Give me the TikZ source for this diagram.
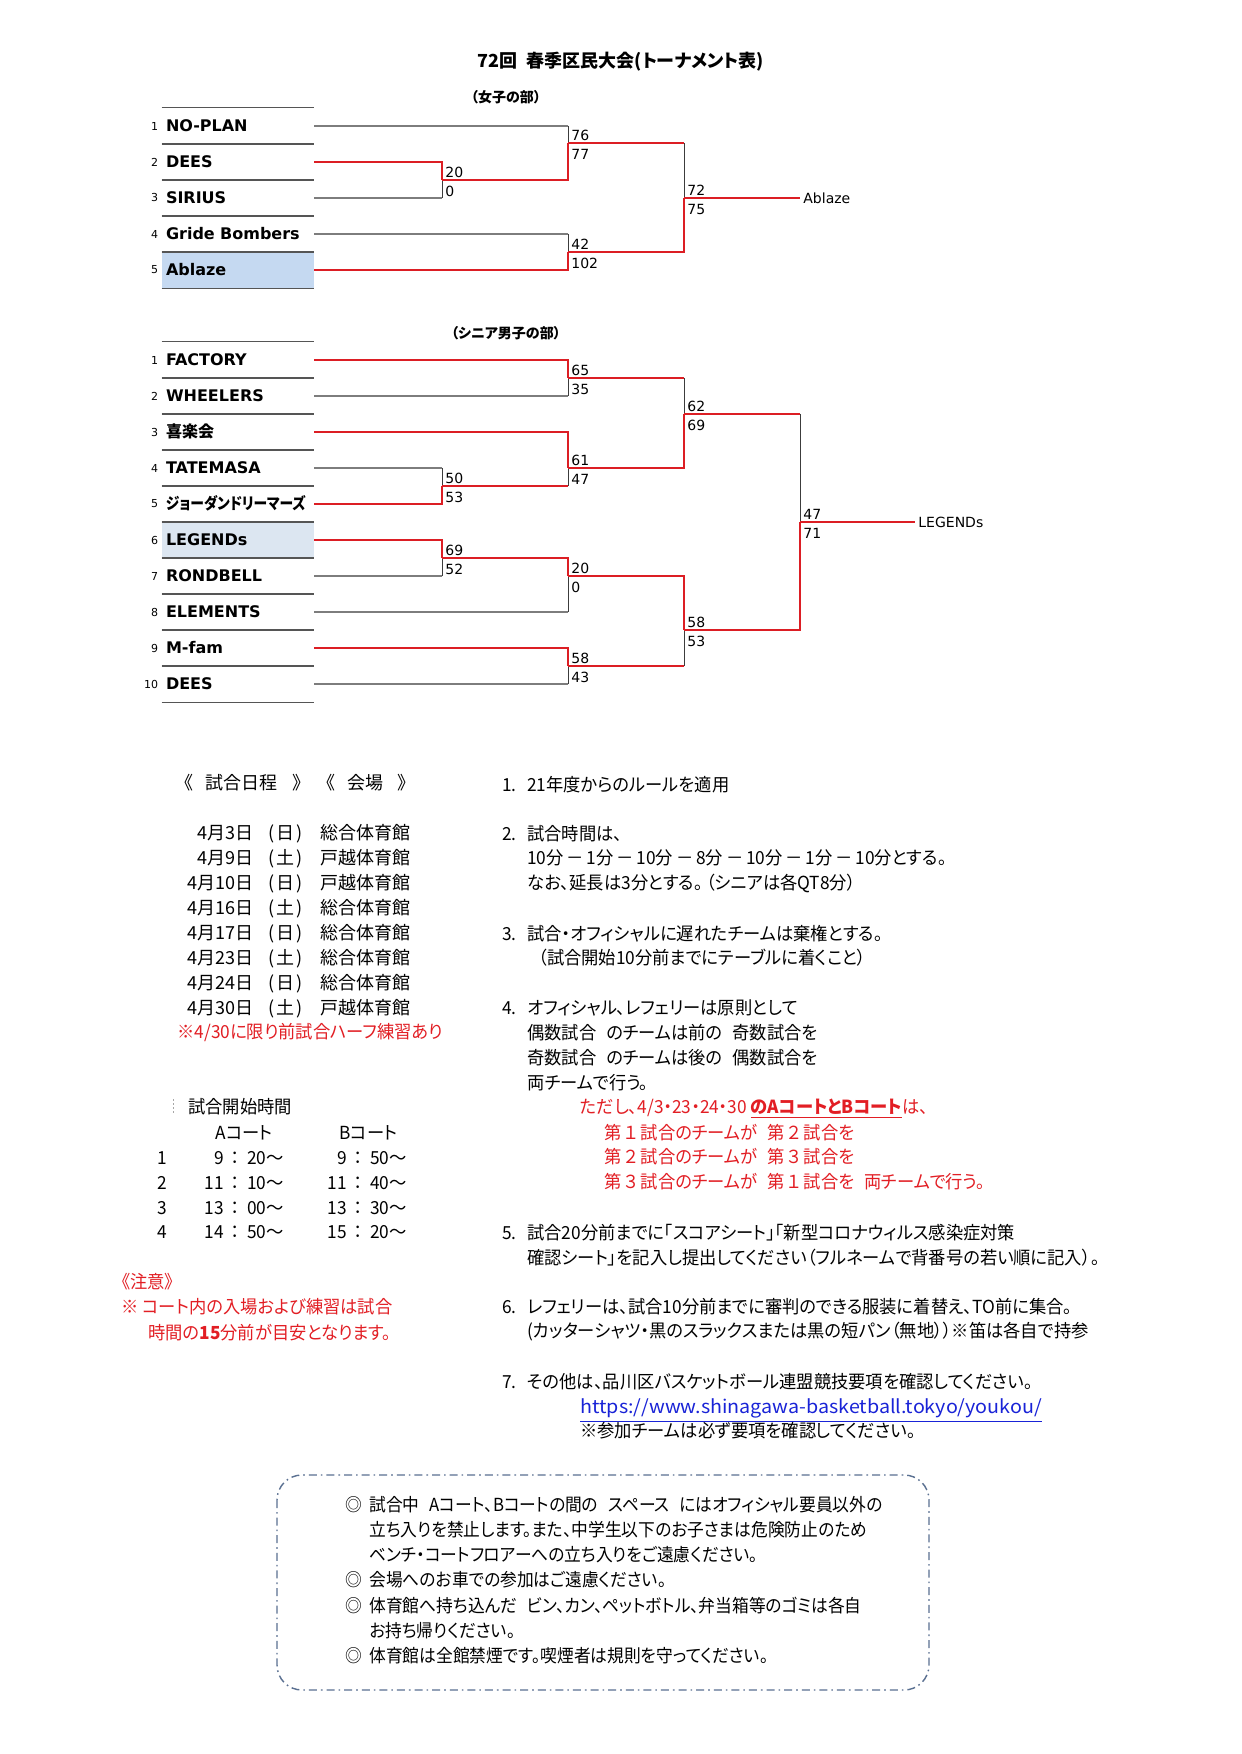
\documentclass[tikz,border=0pt]{standalone}
\usepackage{fontspec}
\setmainfont{DejaVu Sans}
\newfontfamily\lat{DejaVu Sans}
\newfontfamily\jpt[RawFeature=+palt]{Noto Sans CJK JP}
\newfontfamily\jp[RawFeature=+palt,FakeStretch=0.96]{Noto Sans CJK JP}
\newfontfamily\jpx[RawFeature=+palt,FakeStretch=0.93]{Noto Sans CJK JP}
\newfontfamily\jpw[FakeStretch=1.06]{Noto Sans CJK JP}
\newfontfamily\jpc[RawFeature=+palt,FakeStretch=0.86]{Noto Sans CJK JP}
\definecolor{wred}{RGB}{220,30,36}
\definecolor{hgray}{RGB}{125,125,125}
\definecolor{vgray}{RGB}{60,60,60}
\definecolor{sepc}{RGB}{85,85,85}
\definecolor{cellA}{RGB}{197,217,241}
\definecolor{cellB}{RGB}{220,230,241}
\definecolor{txtred}{RGB}{226,30,36}
\definecolor{urlblue}{RGB}{25,35,215}
\definecolor{boxc}{RGB}{90,112,145}
\tikzset{
  win/.style={draw=wred,line width=1.2pt},
  loseh/.style={draw=hgray,line width=0.65pt},
  losev/.style={draw=vgray,line width=0.5pt},
  sepline/.style={draw=sepc,line width=0.8pt},
  teamcell/.style={inner xsep=2pt,inner ysep=0pt,text width=72pt,minimum height=18pt,align=left,
    font=\lat\bfseries\fontsize{8}{9.6}\selectfont,text height=5.9pt,text depth=0pt},
  rownum/.style={anchor=east,inner xsep=1.5pt,inner ysep=0pt,font=\lat\fontsize{5.5}{6.6}\selectfont},
  score/.style={anchor=base west,inner sep=0pt,font=\lat\fontsize{7}{8.4}\selectfont},
  champ/.style={anchor=west,inner xsep=1.5pt,inner ysep=0pt,font=\lat\fontsize{7}{8.4}\selectfont},
  jtitle/.style={inner sep=0pt,font=\jpt\bfseries\fontsize{9}{10.8}\selectfont},
  jhead/.style={inner sep=0pt,font=\jpt\bfseries\fontsize{7}{8.4}\selectfont},
  jt/.style={anchor=west,inner sep=0pt,font=\jp\fontsize{9}{10.8}\selectfont,text height=7.9pt,text depth=1.1pt},
  jte/.style={jt,anchor=east},
  jtc/.style={jt,anchor=center},
  jred/.style={jt,text=txtred},
  jdate/.style={jt,font=\jpt\fontsize{9}{10.8}\selectfont},
  jbox/.style={jt,font=\jpx\fontsize{9}{10.8}\selectfont},
  boxline/.style={draw=boxc,line width=0.7pt,dash pattern=on 4pt off 2pt on 0.8pt off 2pt,rounded corners=12.5pt}
}
\newcommand\ew[2]{\draw[win] (#1) -| (#2);}
\newcommand\el[2]{\draw[loseh] (#1) -- (#1 -| #2); \draw[losev] (#1 -| #2) -- (#2);}
\newcommand\eo[2]{\draw[losev] (#1 -| #2) -- (#2); \draw[win] (#1) -- (#1 -| #2);}
\newcommand\scores[3]{\node[score] (#1u) at ([shift={(3,-2.5)}]#1) {#2};
  \node[score] (#1l) at ([shift={(3,16.5)}]#1) {#3};}
\newcommand\cellsep[1]{\draw[sepline] (#1.north west) -- (#1.north east); \draw[sepline] (#1.south west) -- (#1.south east);}
\newcommand\dsh{\hspace{0.16em}－\hspace{0.16em}}
\newcommand\hsp{\hspace{0.55em}}
\newcommand\clt{\hspace{0.4em}：\hspace{0.4em}}
\begin{document}
\begin{tikzpicture}[x=0.5pt,y=-0.5pt]
\useasboundingbox (0,0) rectangle (1241,1754);
\fill[white] (0,0) rectangle (1241,1754);

% ---------- titles
\node[jtitle] (title) at (621,62) {72回\hspace{0.5em}春季区民大会(トーナメント表)};
\node[jhead] (hw) at (506,97) {（女子の部）};
\node[jhead] (hm) at (506,333) {（シニア男子の部）};

% ---------- women cells
\node[teamcell] (w1) at (238,126) {NO-PLAN};
\node[teamcell] (w2) at (238,162) {DEES};
\node[teamcell] (w3) at (238,198) {SIRIUS};
\node[teamcell] (w4) at (238,234) {Gride Bombers};
\node[teamcell,fill=cellA] (w5) at (238,270) {Ablaze};
\foreach \i in {1,...,5} {\cellsep{w\i} \node[rownum] (wn\i) at (w\i.west) {\i};}

% ---------- men cells
\node[teamcell] (s1) at (238,360) {FACTORY};
\node[teamcell] (s2) at (238,396) {WHEELERS};
\node[teamcell] (s3) at (238,432) {{\jpt 喜楽会}};
\node[teamcell] (s4) at (238,468) {TATEMASA};
\node[teamcell] (s5) at (238,504) {{\jpc ジョーダンドリーマーズ}};
\node[teamcell,fill=cellB] (s6) at (238,540) {LEGENDs};
\node[teamcell] (s7) at (238,576) {RONDBELL};
\node[teamcell] (s8) at (238,612) {ELEMENTS};
\node[teamcell] (s9) at (238,648) {M-fam};
\node[teamcell] (s10) at (238,684) {DEES};
\foreach \i in {1,...,10} {\cellsep{s\i} \node[rownum] (sn\i) at (s\i.west) {\i};}

% ---------- junctions
\coordinate (mA) at (442,180);
\coordinate (mB) at (568,143);
\coordinate (mC) at (568,252);
\coordinate (mD) at (684,198);
\coordinate (m1) at (568,378);
\coordinate (m2) at (442,486);
\coordinate (m3) at (568,468);
\coordinate (m4) at (684,414);
\coordinate (m5) at (442,558);
\coordinate (m6) at (568,576);
\coordinate (m7) at (568,666);
\coordinate (m8) at (684,630);
\coordinate (m9) at (800,522);

% women bracket
\el{w1.east}{mB}
\el{w3.east}{mA}
\el{w4.east}{mC}
\eo{mB}{mD}
\ew{w2.east}{mA}
\ew{w5.east}{mC}
\ew{mA}{mB}
\ew{mC}{mD}
\node[champ] (cw) at (800,198) {Ablaze};
\draw[win] (mD) -- (cw.west);
\scores{mA}{20}{0}
\scores{mB}{76}{77}
\scores{mC}{42}{102}
\scores{mD}{72}{75}

% men bracket
\el{s2.east}{m1}
\el{s4.east}{m2}
\el{s7.east}{m5}
\el{s8.east}{m6}
\el{s10.east}{m7}
\eo{m2}{m3}
\eo{m1}{m4}
\eo{m7}{m8}
\eo{m4}{m9}
\ew{s1.east}{m1}
\ew{s3.east}{m3}
\ew{s5.east}{m2}
\ew{s6.east}{m5}
\ew{s9.east}{m7}
\ew{m3}{m4}
\ew{m5}{m6}
\ew{m6}{m8}
\ew{m8}{m9}
\node[champ] (cm) at (915,522) {LEGENDs};
\draw[win] (m9) -- (cm.west);
\scores{m1}{65}{35}
\scores{m2}{50}{53}
\scores{m3}{61}{47}
\scores{m4}{62}{69}
\scores{m5}{69}{52}
\scores{m6}{20}{0}
\scores{m7}{58}{43}
\scores{m8}{58}{53}
\scores{m9}{47}{71}

% ---------- schedule
\node[jdate] (hA1) at (184,783) {《};
\node[jdate] (hA2) at (205,783) {試合日程};
\node[jdate] (hA3) at (292,783) {》};
\node[jdate] (hB1) at (326,783) {《};
\node[jdate] (hB2) at (347,783) {会場};
\node[jdate] (hB3) at (397,783) {》};
\foreach \d/\w/\v [count=\k] in {4月3日/日/総合,4月9日/土/戸越,4月10日/日/戸越,4月16日/土/総合,4月17日/日/総合,4月23日/土/総合,4月24日/日/総合,4月30日/土/戸越} {
  \pgfmathsetmacro\yy{833+(\k-1)*24.9}
  \node[jdate,anchor=east] (dd\k) at (254,\yy) {\d};
  \node[jdate] (dw\k) at (268,\yy) {(\hspace{0.1em}\w\hspace{0.1em})};
  \node[jdate] (dv\k) at (320,\yy) {\v 体育館};
}
\node[jred] (dnote) at (177,1032) {※4/30に限り前試合ハーフ練習あり};

% ---------- start times
\draw[gray!70,line width=0.4pt,dash pattern=on 1pt off 1pt] (173,1099) -- (173,1115);
\node[jt] (st) at (188,1107) {試合開始時間};
\node[jt] (ca) at (215,1133) {Aコート};
\node[jt] (cb) at (339,1133) {Bコート};
\foreach \a/\aa/\b/\bb [count=\k] in {9/20/9/50,11/10/11/40,13/00/13/30,14/50/15/20} {
  \pgfmathsetmacro\yy{1158+(\k-1)*24.7}
  \node[jtc] (tn\k) at (162,\yy) {\k};
  \node[jte] (ta\k) at (284,\yy) {\a\clt\aa～};
  \node[jte] (tb\k) at (407,\yy) {\b\clt\bb～};
}
\node[jred] (c1) at (121,1282) {《注意》};
\node[jred] (c2) at (121,1307) {※ コート内の入場および練習は試合};
\node[jred] (c3) at (148,1333) {時間の\textbf{15}分前が目安となります。};

% ---------- rules
\node[jt] (r1n) at (502,785) {1.};
\node[jt] (r1) at (527,785) {21年度からのルールを適用};
\node[jt] (r2n) at (502,834) {2.};
\node[jt] (r2a) at (527,834) {試合時間は、};
\node[jt] (r2b) at (527,858) {10分\dsh 1分\dsh 10分\dsh 8分\dsh 10分\dsh 1分\dsh 10分とする。};
\node[jt] (r2c) at (527,883) {なお、延長は3分とする。\hspace{0.2em}（シニアは各QT8分）};
\node[jt] (r3n) at (502,934) {3.};
\node[jt] (r3a) at (527,934) {試合・オフィシャルに遅れたチームは棄権とする。};
\node[jt] (r3b) at (538,958) {（試合開始10分前までにテーブルに着くこと）};
\node[jt] (r4n) at (502,1008) {4.};
\node[jt] (r4a) at (527,1008) {オフィシャル、レフェリーは原則として};
\node[jt] (r4b) at (527,1033) {偶数試合\hsp のチームは前の\hsp 奇数試合を};
\node[jt] (r4c) at (527,1058) {奇数試合\hsp のチームは後の\hsp 偶数試合を};
\node[jt] (r4d) at (527,1083) {両チームで行う。};
\node[jred] (r4e) at (580,1107) {ただし、4/3・23・24・30 \textbf{\underline{のAコートとBコート}}は、};
\node[jred] (r4f) at (604,1133) {第\,１\,試合のチームが\hsp 第\,２\,試合を};
\node[jred] (r4g) at (604,1157) {第\,２\,試合のチームが\hsp 第\,３\,試合を};
\node[jred] (r4h) at (604,1182) {第\,３\,試合のチームが\hsp 第\,１\,試合を\hsp 両チームで行う。};
\node[jt] (r5n) at (502,1233) {5.};
\node[jt] (r5a) at (527,1233) {試合20分前までに「スコアシート」「新型コロナウィルス感染症対策};
\node[jt] (r5b) at (527,1258) {確認シート」を記入し提出してください（フルネームで背番号の若い順に記入）。};
\node[jt] (r6n) at (502,1307) {6.};
\node[jt] (r6a) at (527,1307) {レフェリーは、試合10分前までに審判のできる服装に着替え、TO前に集合。};
\node[jt] (r6b) at (527,1331) {(カッターシャツ・黒のスラックスまたは黒の短パン（無地））※笛は各自で持参};
\node[jt] (r7n) at (502,1382) {7.};
\node[jt] (r7a) at (527,1382) {その他は、品川区バスケットボール連盟競技要項を確認してください。};
\node[jt,font=\jpw\fontsize{9.3}{11}\selectfont,text=urlblue] (r7b) at (580,1407) {\underline{https://www.shinagawa-basketball.tokyo/youkou/}};
\node[jt] (r7c) at (580,1431) {※参加チームは必ず要項を確認してください。};

% ---------- notice box
\draw[boxline] (277,1475) rectangle (929,1690);
\node[jbox] (b1m) at (345,1505) {◎};
\node[jbox] (b1) at (369,1505) {試合中\hsp Aコート、Bコートの間の\hsp スペース\hsp にはオフィシャル要員以外の};
\node[jbox] (b2) at (369,1530) {立ち入りを禁止します。また、中学生以下のお子さまは危険防止のため};
\node[jbox] (b3) at (369,1555) {ベンチ・コートフロアーへの立ち入りをご遠慮ください。};
\node[jbox] (b4m) at (345,1580) {◎};
\node[jbox] (b4) at (369,1580) {会場へのお車での参加はご遠慮ください。};
\node[jbox] (b5m) at (345,1606) {◎};
\node[jbox] (b5) at (369,1606) {体育館へ持ち込んだ\hsp ビン、カン、ペットボトル、弁当箱等のゴミは各自};
\node[jbox] (b6) at (369,1631) {お持ち帰りください。};
\node[jbox] (b7m) at (345,1656) {◎};
\node[jbox] (b7) at (369,1656) {体育館は全館禁煙です。喫煙者は規則を守ってください。};
\end{tikzpicture}
\end{document}
